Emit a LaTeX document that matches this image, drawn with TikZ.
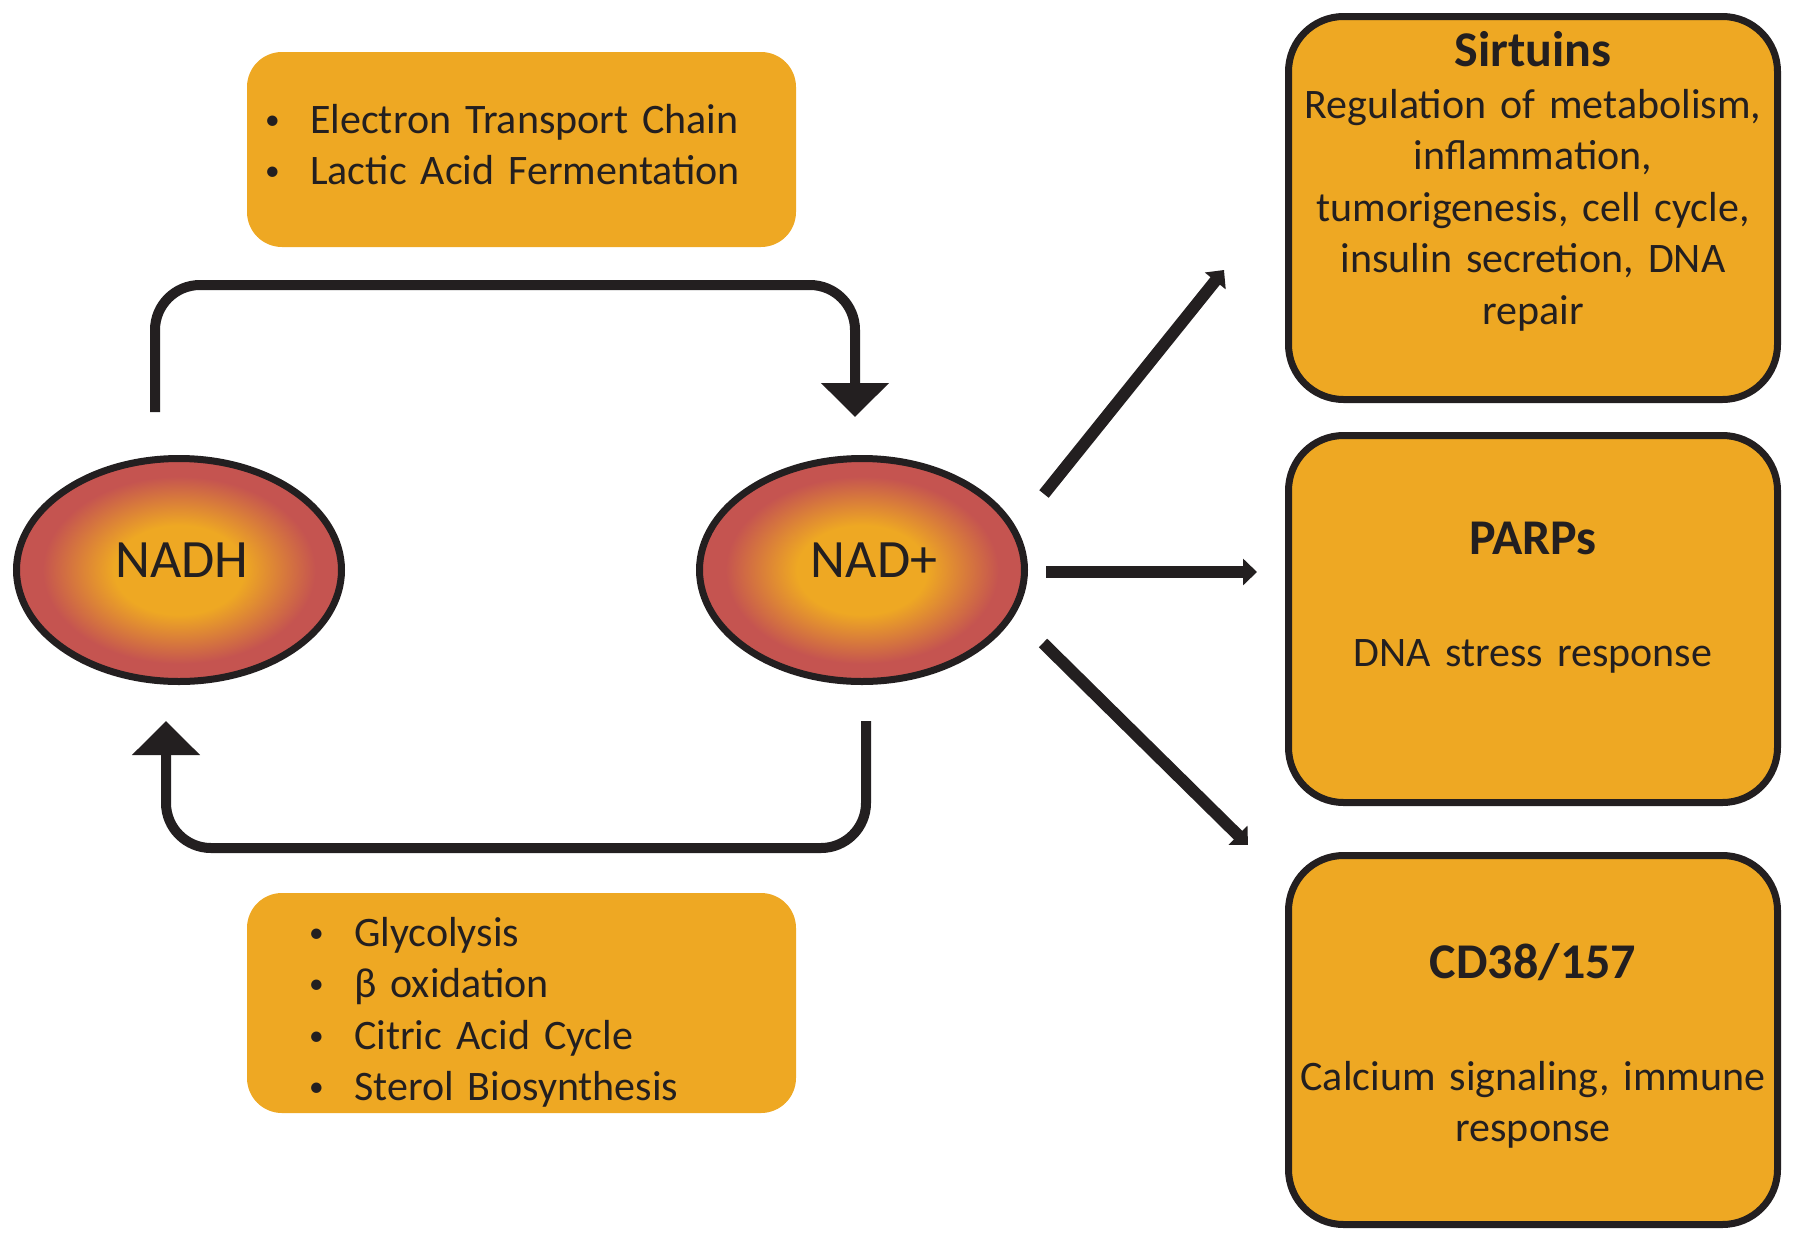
\documentclass[tikz,border=0pt]{standalone}
\usepackage{fontspec}
\setmainfont{Carlito}
\usetikzlibrary{shapes.geometric,arrows.meta}
\definecolor{boxorange}{RGB}{238,168,35}
\definecolor{cellred}{RGB}{197,84,80}
\definecolor{inkblack}{RGB}{35,31,32}
\pgfdeclareradialshading{nadglow}{\pgfpoint{0bp}{0bp}}{color(0bp)=(boxorange); color(10bp)=(boxorange); color(21bp)=(cellred); color(50bp)=(cellred)}
\newcommand\bodyfont{\fontsize{42}{51.5}\selectfont}
\newcommand\headfont{\fontsize{50}{60}\selectfont\bfseries}
\newcommand\itm{\makebox[48pt][l]{\hspace{3pt}\raisebox{4pt}{\scalebox{0.7}{\textbullet}}}}
\tikzstyle{cell} = [ellipse,draw=inkblack,line width=7pt,shading=nadglow,minimum width=325pt,minimum height=223pt,inner sep=0pt]
\tikzstyle{celltext} = [text=inkblack,font=\fontsize{54}{60}\selectfont,inner sep=0pt]
\tikzstyle{pathway} = [fill=boxorange,rounded corners=35pt,minimum width=549pt,inner sep=0pt]
\tikzstyle{target} = [draw=inkblack,fill=boxorange,line width=7pt,rounded corners=55pt,minimum width=489pt,inner sep=0pt]
\tikzstyle{lst} = [text=inkblack,font=\bodyfont,align=left,anchor=base west,inner sep=0pt,text width=530pt]
\tikzstyle{ttl} = [text=inkblack,font=\headfont,anchor=base,inner sep=0pt]
\tikzstyle{txt} = [text=inkblack,font=\bodyfont,anchor=base,inner sep=0pt,text width=490pt,align=center]
\tikzstyle{cycle} = [draw=inkblack,line width=10pt,rounded corners=45pt,-{Triangle[length=34pt,width=66pt]}]
\tikzstyle{fan} = [draw=inkblack,line width=12pt,-{Triangle[length=14pt,width=26pt]}]
\begin{document}
\begin{tikzpicture}[x=1pt,y=-1pt]
\useasboundingbox (0,0) rectangle (1800,1248);

% pathways
\node[pathway,minimum height=195pt] (ox) at (521.5,149.5) {};
\node[lst] (oxlist) at (262,133) {\itm Electron Transport Chain\\\itm Lactic Acid Fermentation};
\node[pathway,minimum height=220pt] (red) at (521.5,1003) {};
\node[lst] (redlist) at (306,946) {\itm Glycolysis\\\itm β oxidation\\\itm Citric Acid Cycle\\\itm Sterol Biosynthesis};

% NADH / NAD+
\node[cell] (nadh) at (179,570) {};
\node[celltext] (nadhlbl) at (182,560) {NADH};
\node[cell] (nad) at (862,570) {};
\node[celltext] (nadlbl) at (874,560) {NAD+};

% consumers
\node[target,minimum height=383pt] (sirt) at (1533,208) {};
\node[ttl] (sirtttl) at (1533,66) {Sirtuins};
\node[txt] (sirttxt) at (1533,118) {Regulation of metabolism,\\ inflammation,\\ tumorigenesis, cell cycle,\\ insulin secretion, DNA\\ repair};
\node[target,minimum height=367pt] (parp) at (1533,619) {};
\node[ttl] (parpttl) at (1533,554) {PARPs};
\node[txt] (parptxt) at (1533,666) {DNA stress response};
\node[target,minimum height=369pt] (cd) at (1533,1040) {};
\node[ttl] (cdttl) at (1533,978) {CD38/157};
\node[txt] (cdtxt) at (1533,1090) {Calcium signaling, immune\\ response};

% arrow ends
\coordinate (oxout) at (155,412);
\coordinate (oxin) at (855,417);
\coordinate (redout) at (866,721);
\coordinate (redin) at (166,721);
\coordinate (fan1s) at (1044,494);
\coordinate (fan1e) at (1224,270);
\coordinate (fan2s) at (1046,572);
\coordinate (fan2e) at (1257,572);
\coordinate (fan3s) at (1043,643);
\coordinate (fan3e) at (1248,845);

\draw[cycle] (oxout) -- ++(0,-127) -| (oxin);
\draw[cycle] (redout) -- ++(0,127) -| (redin);
\draw[fan] (fan1s) -- (fan1e);
\draw[fan] (fan2s) -- (fan2e);
\draw[fan] (fan3s) -- (fan3e);

\end{tikzpicture}
\end{document}
